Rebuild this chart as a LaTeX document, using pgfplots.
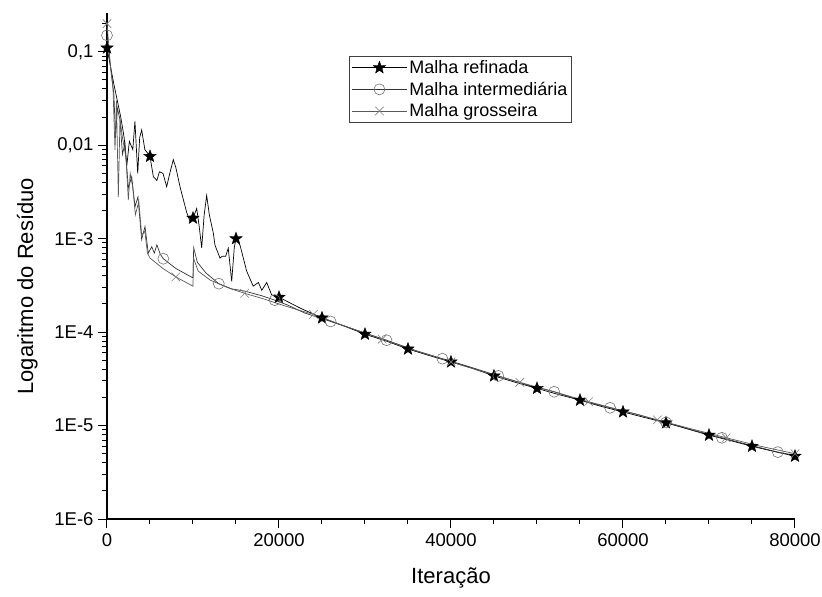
\documentclass[border=0pt]{standalone}
\usepackage{fontspec}
\setmainfont{Liberation Sans}
\usepackage{pgfplots}
\pgfplotsset{compat=1.18}

% filled five-point star for the refined mesh
\pgfdeclareplotmark{fstar}{%
  \pgfpathmoveto{\pgfpointpolar{90}{\pgfplotmarksize}}%
  \pgfpathlineto{\pgfpointpolar{126}{0.42\pgfplotmarksize}}%
  \pgfpathlineto{\pgfpointpolar{162}{\pgfplotmarksize}}%
  \pgfpathlineto{\pgfpointpolar{198}{0.42\pgfplotmarksize}}%
  \pgfpathlineto{\pgfpointpolar{234}{\pgfplotmarksize}}%
  \pgfpathlineto{\pgfpointpolar{270}{0.42\pgfplotmarksize}}%
  \pgfpathlineto{\pgfpointpolar{306}{\pgfplotmarksize}}%
  \pgfpathlineto{\pgfpointpolar{342}{0.42\pgfplotmarksize}}%
  \pgfpathlineto{\pgfpointpolar{18}{\pgfplotmarksize}}%
  \pgfpathlineto{\pgfpointpolar{54}{0.42\pgfplotmarksize}}%
  \pgfpathclose
  \pgfusepathqfillstroke}

\begin{document}
\begin{tikzpicture}
\path[use as bounding box] (-107pt,-78pt) rectangle (715pt,519pt);
\begin{axis}[
    scale only axis,
    width=688pt, height=506pt,
    ymode=log,
    xmin=0, xmax=80000,
    ymin=1e-6, ymax=0.26,
    axis x line=bottom, axis y line=left,
    axis line style={-, line width=1.2pt},
    tick align=outside,
    major tick length=9pt, minor tick length=5pt,
    tick style={line width=1pt, black},
    scaled x ticks=false,
    xtick={0,20000,40000,60000,80000},
    xticklabels={0,20000,40000,60000,80000},
    minor xtick={5000,10000,15000,25000,30000,35000,45000,50000,55000,65000,70000,75000},
    ytick={1e-6,1e-5,1e-4,1e-3,1e-2,1e-1},
    yticklabels={1E-6,1E-5,1E-4,1E-3,{0,01},{0,1}},
    minor ytick={2e-6,3e-6,4e-6,5e-6,6e-6,7e-6,8e-6,9e-6,
                 2e-5,3e-5,4e-5,5e-5,6e-5,7e-5,8e-5,9e-5,
                 2e-4,3e-4,4e-4,5e-4,6e-4,7e-4,8e-4,9e-4,
                 2e-3,3e-3,4e-3,5e-3,6e-3,7e-3,8e-3,9e-3,
                 2e-2,3e-2,4e-2,5e-2,6e-2,7e-2,8e-2,9e-2,0.2},
    tick label style={font=\fontsize{18.5}{20}\selectfont},
    yticklabel style={xshift=-1pt},
    xticklabel style={yshift=-2pt},
    label style={font=\fontsize{22}{24}\selectfont},
    xlabel={Iteração},
    ylabel={Logaritmo do Resíduo},
    xlabel style={at={(axis description cs:0.5,-0.117)}, anchor=center},
    ylabel style={at={(axis description cs:-0.116,0.46)}, anchor=center},
    clip=false,
    legend style={at={(axis description cs:0.352,0.915)}, anchor=north west,
        draw=black!75, line width=0.8pt, fill=white,
        font=\fontsize{18}{20}\selectfont,
        inner xsep=2pt, inner ysep=2pt, row sep=3pt},
    legend cell align=left,
    legend image code/.code={%
        \draw[#1, mark=none] (0pt,0pt) -- (55pt,0pt);
        \draw[#1, mark indices={1}] plot coordinates {(27.5pt,0pt)};},
]

% Malha refinada
\addplot[black, line width=0.7pt, mark=fstar,
    mark size=6.5pt, mark options={fill=black, line width=0.4pt},
    mark indices={1,15,27,42,50,52,54,56,58,60,62,64,66,68,70,72,74}]
coordinates {
 (0,0.11) (400,0.07) (800,0.045) (1200,0.03) (1600,0.02) (2000,0.012)
 (2300,0.006) (2600,0.011) (3000,0.009) (3250,0.018) (3570,0.005)
 (3800,0.012) (4030,0.0146) (4400,0.009) (5000,0.0076) (5390,0.0046)
 (5800,0.0042) (6100,0.0052) (6510,0.005) (6940,0.0036) (7300,0.005)
 (7710,0.007) (8000,0.0058) (8490,0.0036) (9270,0.0019) (9700,0.0015)
 (10000,0.00166) (10430,0.0021) (10700,0.0014) (11010,0.0008)
 (11300,0.0018) (11590,0.0029) (11900,0.0018) (12360,0.00115)
 (12560,0.00085) (13140,0.00062) (13400,0.00065) (13800,0.00065)
 (14100,0.00079) (14500,0.00035) (14800,0.0008) (15000,0.001)
 (15470,0.00085) (16240,0.00045) (17000,0.00031) (17600,0.00034)
 (18000,0.00028) (18570,0.00034) (19150,0.00025) (20000,0.000236)
 (22500,1.8e-4) (25000,1.42e-4) (27500,1.17e-4) (30000,9.5e-5)
 (32500,8.0e-5) (35000,6.6e-5) (37500,5.6e-5) (40000,4.8e-5)
 (42500,4.1e-5) (45000,3.4e-5) (47500,2.9e-5) (50000,2.5e-5)
 (52500,2.15e-5) (55000,1.87e-5) (57500,1.6e-5) (60000,1.4e-5)
 (62500,1.22e-5) (65000,1.07e-5) (67500,9.2e-6) (70000,7.9e-6)
 (72500,6.9e-6) (75000,6.0e-6) (77500,5.3e-6) (80000,4.7e-6)
};
\addlegendentry{Malha refinada}

% Malha intermediaria
\addplot[black!80, line width=0.7pt, mark=o,
    mark size=5.5pt, mark options={draw=black!55, fill=white, line width=0.6pt},
    mark indices={1,21,27,31,34,36,38,40,42,44,46,48,50}]
coordinates {
 (0,0.15) (200,0.10) (500,0.06) (800,0.035) (1000,0.012) (1200,0.025)
 (1500,0.019) (1800,0.008) (2090,0.0105) (2480,0.0035) (2870,0.0046)
 (3260,0.0022) (3600,0.0028) (4030,0.00098) (4420,0.00135) (4800,0.0007)
 (5200,0.00082) (5500,0.0007) (5800,0.00086) (6200,0.00068)
 (6550,0.00061) (8000,0.00048) (10000,0.00038) (10080,0.0008)
 (10500,0.00056) (11500,0.00043) (13000,0.00033) (14500,0.00029)
 (16000,0.000275) (18000,0.000245) (19500,0.00022) (21000,0.000195)
 (23000,0.00016) (26000,1.3e-4) (29000,1.05e-4) (32500,8.2e-5)
 (36000,6.3e-5) (39000,5.2e-5) (42000,4.3e-5) (45500,3.4e-5)
 (49000,2.7e-5) (52000,2.3e-5) (55000,1.87e-5) (58500,1.55e-5)
 (61500,1.33e-5) (65000,1.08e-5) (68000,9.0e-6) (71500,7.4e-6)
 (75000,6.1e-6) (78000,5.2e-6) (80000,4.8e-6)
};
\addlegendentry{Malha intermediária}

% Malha grosseira
\addplot[black!65, line width=0.7pt, mark=x,
    mark size=6pt, mark options={draw=black!50, line width=0.6pt},
    mark indices={1,21,27,31,33,35,37,39,41,43,45}]
coordinates {
 (0,0.2) (200,0.12) (400,0.07) (700,0.04) (930,0.0089) (1100,0.03)
 (1320,0.0028) (1510,0.019) (1800,0.012) (2200,0.0075) (2480,0.0026)
 (2700,0.005) (3000,0.0035) (3300,0.0018) (3700,0.0025) (4030,0.0011)
 (4400,0.0012) (4700,0.0007) (5000,0.00062) (6500,0.00048)
 (8000,0.00039) (10000,0.00031) (10050,0.00062) (10600,0.00045)
 (12000,0.00036) (14000,0.0003) (16000,0.00026) (18000,0.00023)
 (20000,0.0002) (22000,0.000175) (24000,0.000155) (27000,1.22e-4)
 (32000,8.4e-5) (36000,6.3e-5) (40000,4.8e-5) (44000,3.7e-5)
 (48000,2.9e-5) (52000,2.3e-5) (56000,1.8e-5) (60000,1.44e-5)
 (64000,1.15e-5) (68000,9.2e-6) (72000,7.4e-6) (76000,6.0e-6)
 (80000,5.0e-6)
};
\addlegendentry{Malha grosseira}

\end{axis}
\end{tikzpicture}
\end{document}
